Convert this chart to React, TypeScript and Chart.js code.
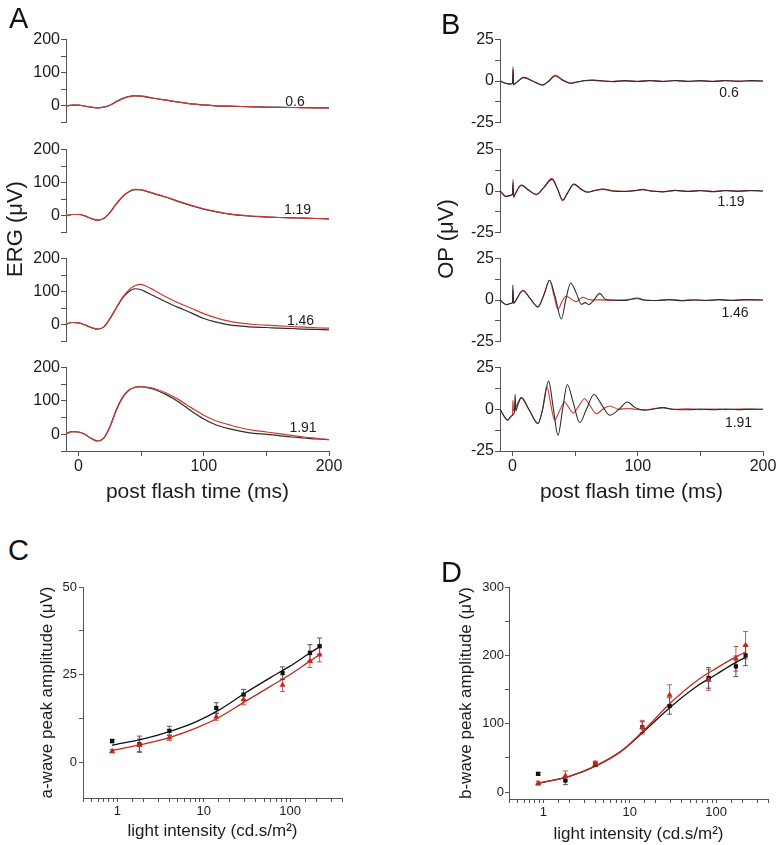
import React, { useEffect, useRef } from 'react';
import { Chart, registerables } from 'chart.js';

Chart.register(...registerables);

const FONT = "'Liberation Sans', Arial, Helvetica, sans-serif";
const AXIS = '#555555';
const TXT = '#1c1c1c';
const BLACK = '#2e2e2e';
const RED = '#cc3a32';

// ---------- Panel A : ERG traces (post flash time, ms) ----------
const ERG_T = [-10, -5, 0, 5, 10, 15, 20, 25, 30, 35, 40, 45, 50, 55, 60, 70, 80, 90, 100, 110, 120, 130, 140, 150, 160, 170, 180, 190, 200];
const ERG_06_BLACK = [0, 2, 2, -1, -4, -6, -4, 2, 13, 22, 28, 30, 29, 26, 23, 17, 11, 6, 3, 0, -1, -2, -3, -4, -4, -5, -5, -6, -6];
const ERG_06_RED = [0, 2, 2, -1, -4, -6, -4, 2, 12, 21, 28, 31, 30, 27, 23, 17, 11, 6, 3, 0, -1, -2, -3, -4, -5, -5, -6, -6, -7];
const ERG_119_BLACK = [0, 4, 4, 0, -8, -13, -8, 10, 35, 57, 72, 79, 78, 73, 67, 56, 43, 31, 20, 12, 5, 1, -2, -4, -5, -6, -7, -8, -9];
const ERG_119_RED = [0, 4, 4, 0, -8, -13, -8, 10, 36, 58, 73, 80, 79, 74, 68, 57, 44, 32, 21, 13, 6, 2, -1, -3, -5, -6, -7, -8, -9];
const ERG_146_BLACK = [2, 7, 6, 0, -8, -13, -7, 18, 50, 80, 100, 109, 106, 97, 88, 69, 52, 36, 19, 8, 0, -4, -7, -8, -10, -11, -13, -14, -15];
const ERG_146_RED = [2, 7, 6, 0, -8, -13, -7, 18, 50, 82, 105, 118, 122, 115, 105, 84, 66, 50, 34, 21, 11, 5, 1, -1, -3, -5, -7, -9, -10];
const ERG_191_BLACK = [2, 8, 7, 0, -12, -20, -12, 22, 72, 110, 132, 141, 143, 140, 135, 119, 97, 70, 46, 28, 17, 9, 3, 0, -4, -8, -11, -14, -16];
const ERG_191_RED = [2, 8, 7, 0, -12, -20, -12, 22, 70, 108, 131, 141, 143, 141, 138, 124, 104, 80, 57, 40, 29, 19, 12, 7, 2, -3, -8, -12, -16];

// ---------- Panel B : OP traces ----------
const OP_06_T = [-10, -5, -1, 0, 0.4, 0.9, 3, 9, 16, 24, 29, 34, 40, 46, 52, 58, 64, 72, 80, 90, 100, 110, 120, 130, 140, 150, 160, 170, 180, 190, 200];
const OP_06_BLACK = [0, -1.5, -1.8, -1.5, 7, -2.2, -1, 2.2, 0, -2.4, 0, 3.0, 0.5, -1.4, -0.5, 0.3, 0.5, 0, -0.4, 0.2, -0.3, 0.2, -0.3, 0.3, -0.2, 0.2, -0.3, 0.2, -0.2, 0.2, 0];
const OP_06_RED = [0, -1.5, -1.8, -1.5, 8.7, -2.4, -1, 2.0, 0, -2.6, 0, 3.6, 0.8, -1.2, -0.6, 0.2, 0.4, 0.1, -0.3, 0.1, -0.2, 0.3, -0.2, 0.2, -0.3, 0.1, -0.2, 0.3, -0.1, 0.1, 0];

const OP_119_T = [-10, -5, -1, 0, 0.4, 0.9, 2, 7, 13, 19, 25, 31.5, 36, 40, 44, 49, 55, 60, 66, 72, 80, 90, 98, 104, 110, 120, 130, 140, 150, 160, 170, 180, 190, 200];
const OP_119_BLACK = [0, -3.4, -2.5, -2, 5, -3.5, -2, 3.6, 0.5, -2, 2, 7, 1, -5.4, -1, 4.2, 1, -0.8, 0.3, 1.2, 0, -0.3, 0.2, 1, 0, -0.5, 0.4, -0.3, 0.2, -0.4, 0.3, -0.2, 0.3, 0];
const OP_119_RED = [0, -3.2, -2.5, -2, 7, -4, -2, 3.4, 0.3, -2.3, 2.2, 7.6, 1.2, -5.8, -1.2, 4.0, 0.8, -0.6, 0.4, 1.0, 0.1, -0.2, 0.3, 0.8, 0.1, -0.4, 0.3, -0.2, 0.3, -0.3, 0.2, -0.1, 0.2, 0];

const OP_146_BLACK_T = [-10, -5, -1, 0, 0.3, 0.8, 2, 8.3, 14, 20.3, 25, 29.6, 34, 39, 42.5, 46.4, 51, 55, 58, 61, 65, 69.6, 74, 80, 90, 99.7, 105, 115, 125, 135, 145, 155, 165, 175, 185, 200];
const OP_146_BLACK = [0, -2.8, -2, -1.5, 9, -2, -1, 5.6, 1, -4, 3, 11.9, 2, -11.5, 0, 10.3, 4, -2.6, -1.6, -2.8, 0, 4, 0.5, 0, -0.3, 1.2, 0, -0.3, 0.2, -0.4, 0, -0.3, 0.2, -0.3, 0.2, 0];
const OP_146_RED_T = [-10, -5, -1, 0, 0.3, 0.8, 2, 8.3, 14, 20.3, 25, 29.6, 33, 36.3, 39.5, 42.9, 47, 50.9, 53.5, 56.3, 60, 65, 70, 80, 90, 99.7, 105, 115, 125, 135, 145, 155, 165, 175, 185, 200];
const OP_146_RED = [0, -2.8, -2, -1.5, 6, -2, -1, 5.8, 1, -4.4, 3, 11.9, 3, -5.6, -1, 2.4, 0.5, -1, 0.5, 1.6, 0.5, 0, 0.1, -0.2, 0.1, 0.8, 0, -0.3, 0.2, -0.3, 0.1, -0.2, 0.2, -0.2, 0.1, 0];

const OP_191_BLACK_T = [-10, -3.7, -1, 1.5, 2.1, 2.6, 4, 7, 13, 20.3, 24, 28.8, 32.5, 36.3, 40, 43.7, 48.5, 53.6, 59, 65, 71, 77.6, 85, 91.7, 98, 105, 112, 120, 128, 140, 150, 160, 170, 180, 190, 200];
const OP_191_BLACK = [0, -6.5, -4, -2, 9, -1, 2, 7, 0, -8.5, 0, 16.9, 1, -15.5, 0, 14.9, 4, -8.1, 0, 8.9, 3, -3.6, 0, 4.4, 1, -0.5, 0, 1, 0, -0.3, 0.2, -0.3, 0.2, -0.2, 0.1, 0];
const OP_191_RED_T = [-10, -3.7, -1, 0, 0.3, 0.8, 3, 7, 13, 20.3, 24, 27.5, 30.5, 33.6, 37.5, 41.6, 45, 48.3, 52.5, 57.6, 62, 66.9, 72, 77.6, 85, 91.7, 98, 105, 112, 120, 128, 140, 150, 160, 170, 180, 190, 200];
const OP_191_RED = [0, -6.5, -4, -3, 5.4, -1, 2, 7, 0, -8.5, 0, 13.7, 3, -6.5, -1, 4.4, 1, -2.2, 1.5, 6.3, 2, -2.6, 0, 2, 0, 0.5, 0, -0.3, 0.3, 1, 0, 0.3, -0.2, 0.2, -0.2, 0.2, 0, 0];

const INTENSITY_LABELS = ['0.6', '1.19', '1.46', '1.91'];

// ---------- Panels C & D : intensity-response ----------
const INTENSITY = [0.87, 1.8, 4, 14, 29, 82, 170, 220];
const A_WAVE_BLACK = [6.2, 5.3, 9.1, 15.6, 19.4, 25.5, 31.3, 33.2];
const A_WAVE_BLACK_ERR = [0.5, 2.3, 1.3, 1.5, 1.5, 1.8, 2.3, 2.3];
const A_WAVE_RED = [3.3, 5.0, 7.1, 13.1, 18.0, 22.1, 28.9, 30.7];
const A_WAVE_RED_ERR = [0.5, 1.8, 0.8, 1.0, 1.5, 1.8, 1.8, 2.0];
const FIT_X = [0.87, 2, 4, 8, 15, 30, 60, 100, 160, 220];
const A_FIT_BLACK = [5.0, 6.8, 8.9, 11.6, 15.0, 19.8, 24.3, 27.5, 30.8, 33.0];
const A_FIT_RED = [3.5, 5.3, 7.2, 9.8, 12.9, 17.4, 21.8, 25.1, 28.5, 30.8];

const B_WAVE_BLACK = [26.8, 17, 41, 95, 126, 167, 184, 200];
const B_WAVE_BLACK_ERR = [2, 6, 3, 8, 12, 15, 15, 15];
const B_WAVE_RED = [13, 24, 41.5, 95, 142, 164, 195, 215];
const B_WAVE_RED_ERR = [3, 7, 4, 10, 15, 15, 18, 20];
const B_FIT_BLACK = [13, 23, 38, 60, 90, 125, 155, 172, 188, 197];
const B_FIT_RED = [13, 23, 38, 60, 92, 131, 163, 181, 196, 205];

// ---------- geometry ----------
type Geo = { left: number; top: number; width: number; height: number; l: number; t: number; r: number; b: number };
const A_TOPS = [39, 149, 258, 367];
const GEO_A: Geo[] = A_TOPS.map((t, i) =>
  i < 3
    ? { left: 20, top: t - 10, width: 334, height: 104, l: 66, t, r: 329, b: t + 84 }
    : { left: 20, top: t - 10, width: 334, height: 148, l: 66, t, r: 329, b: t + 84 });
const GEO_B: Geo[] = A_TOPS.map((t, i) =>
  i < 3
    ? { left: 454, top: t - 10, width: 330, height: 104, l: 500, t, r: 763, b: t + 84 }
    : { left: 454, top: t - 10, width: 330, height: 148, l: 500, t, r: 763, b: t + 84 });
const GEO_C: Geo = { left: 37, top: 577, width: 325, height: 265, l: 83, t: 587, r: 342, b: 798 };
const GEO_D: Geo = { left: 456, top: 577, width: 328, height: 268, l: 509, t: 587, r: 768, b: 799 };
const ALL_GEO: Geo[] = [...GEO_A, ...GEO_B, GEO_C, GEO_D];

const errorBars = {
  id: 'errorBars',
  beforeDatasetsDraw(chart: any) {
    const { ctx } = chart;
    const ys = chart.scales.y;
    chart.data.datasets.forEach((ds: any, i: number) => {
      if (!ds.errors) return;
      const meta = chart.getDatasetMeta(i);
      ctx.save();
      ctx.strokeStyle = ds.errorColor;
      ctx.lineWidth = 1;
      meta.data.forEach((pt: any, j: number) => {
        const v = ds.data[j].y;
        const e = ds.errors[j];
        const y1 = ys.getPixelForValue(v + e);
        const y2 = ys.getPixelForValue(v - e);
        ctx.beginPath();
        ctx.moveTo(pt.x, y1); ctx.lineTo(pt.x, y2);
        ctx.moveTo(pt.x - 2.5, y1); ctx.lineTo(pt.x + 2.5, y1);
        ctx.moveTo(pt.x - 2.5, y2); ctx.lineTo(pt.x + 2.5, y2);
        ctx.stroke();
      });
      ctx.restore();
    });
  },
};

function line(xs: number[], ys: number[], color: string, width = 1.2) {
  return {
    data: xs.map((x, i) => ({ x, y: ys[i] })),
    borderColor: color,
    borderWidth: width,
    pointRadius: 0,
    fill: false,
    cubicInterpolationMode: 'monotone',
  };
}

function pts(xs: number[], ys: number[], errs: number[], color: string, errColor: string, style: string, radius: number) {
  return {
    data: xs.map((x, i) => ({ x, y: ys[i] })),
    showLine: false,
    pointStyle: style,
    pointRadius: radius,
    backgroundColor: color,
    borderColor: color,
    borderWidth: 0,
    errors: errs,
    errorColor: errColor,
  };
}

const gridOpts = (len: number) => ({ display: true, drawOnChartArea: false, drawTicks: true, tickLength: len, color: AXIS, tickColor: AXIS });
const borderOpts = { display: true, color: AXIS, width: 1 };

function timeAxis(show: boolean) {
  if (!show) return { type: 'linear', min: -10, max: 200, display: false };
  return {
    type: 'linear', min: -10, max: 200,
    border: borderOpts,
    grid: gridOpts(5),
    ticks: {
      stepSize: 50, includeBounds: false, autoSkip: false, maxRotation: 0, padding: 1, color: TXT,
      font: { family: FONT, size: 16 },
      callback: (v: any) => (v % 100 === 0 ? String(v) : ''),
    },
    title: { display: true, text: 'post flash time (ms)', color: TXT, font: { family: FONT, size: 21 }, padding: 0 },
  };
}

function valueAxis(min: number, max: number, step: number, major: number) {
  return {
    type: 'linear', min, max,
    border: borderOpts,
    grid: gridOpts(5),
    ticks: {
      stepSize: step, includeBounds: false, autoSkip: false, padding: 1, color: TXT,
      font: { family: FONT, size: 16 },
      callback: (v: any) => (Math.abs(v % major) < 1e-9 ? String(v) : ''),
    },
  };
}

function logAxis(pad: number) {
  return {
    type: 'logarithmic', min: 0.4, max: 400,
    border: borderOpts,
    grid: gridOpts(4),
    ticks: {
      autoSkip: false, maxRotation: 0, padding: pad, color: TXT,
      font: { family: FONT, size: 13 },
      callback: (v: any) => {
        const l = Math.log10(v);
        return v >= 1 && Math.abs(l - Math.round(l)) < 1e-6 ? String(Math.round(v)) : '';
      },
    },
    title: { display: true, text: 'light intensity (cd.s/m²)', color: TXT, font: { family: FONT, size: 17 }, padding: 0 },
  };
}

function ampAxis(min: number, max: number, step: number, major: number, title: string, pad: number) {
  return {
    type: 'linear', min, max,
    border: borderOpts,
    grid: gridOpts(4),
    ticks: {
      stepSize: step, includeBounds: false, autoSkip: false, padding: pad, color: TXT,
      font: { family: FONT, size: 13 },
      callback: (v: any) => (Math.abs(v % major) < 1e-9 ? String(v) : ''),
    },
    title: { display: true, text: title, color: TXT, font: { family: FONT, size: 17 }, padding: 0 },
  };
}

function makeConfig(g: Geo, datasets: any[], x: any, y: any) {
  const showX = x.display !== false;
  return {
    type: 'line',
    data: { datasets },
    options: {
      responsive: false,
      animation: false,
      events: [],
      layout: {
        padding: {
          left: 0,
          top: g.t - g.top,
          right: g.left + g.width - g.r,
          bottom: showX ? 0 : g.top + g.height - g.b,
        },
      },
      plugins: { legend: { display: false }, tooltip: { enabled: false }, title: { display: false } },
      scales: {
        x: { ...x, afterFit: (s: any) => { if (showX) s.height = g.top + g.height - g.b; } },
        y: { ...y, afterFit: (s: any) => { s.width = g.l - g.left; } },
      },
    },
    plugins: [errorBars],
  };
}

function buildConfigs() {
  const ergPairs = [
    [ERG_06_BLACK, ERG_06_RED],
    [ERG_119_BLACK, ERG_119_RED],
    [ERG_146_BLACK, ERG_146_RED],
    [ERG_191_BLACK, ERG_191_RED],
  ];
  const opTraces = [
    [OP_06_T, OP_06_BLACK, OP_06_T, OP_06_RED],
    [OP_119_T, OP_119_BLACK, OP_119_T, OP_119_RED],
    [OP_146_BLACK_T, OP_146_BLACK, OP_146_RED_T, OP_146_RED],
    [OP_191_BLACK_T, OP_191_BLACK, OP_191_RED_T, OP_191_RED],
  ];
  const cfgs: any[] = [];
  ergPairs.forEach(([bk, rd], i) => {
    cfgs.push(makeConfig(GEO_A[i], [line(ERG_T, rd, RED), line(ERG_T, bk, BLACK)], timeAxis(i === 3), valueAxis(-50, 200, 50, 100)));
  });
  opTraces.forEach(([bt, bk, rt, rd], i) => {
    cfgs.push(makeConfig(GEO_B[i], [line(bt, bk, BLACK, 1.1), line(rt, rd, RED, 1.1)], timeAxis(i === 3), valueAxis(-25, 25, 12.5, 25)));
  });
  cfgs.push(makeConfig(GEO_C, [
    pts(INTENSITY, A_WAVE_RED, A_WAVE_RED_ERR, '#c4281e', '#c9564e', 'triangle', 3.5),
    pts(INTENSITY, A_WAVE_BLACK, A_WAVE_BLACK_ERR, '#111111', '#555555', 'rect', 3),
    line(FIT_X, A_FIT_RED, '#c4281e', 1.3),
    line(FIT_X, A_FIT_BLACK, '#111111', 1.3),
  ], logAxis(2), ampAxis(-10, 50, 12.5, 25, 'a-wave peak amplitude (μV)', 2)));
  cfgs.push(makeConfig(GEO_D, [
    pts(INTENSITY, B_WAVE_RED, B_WAVE_RED_ERR, '#c4281e', '#c9564e', 'triangle', 3.5),
    pts(INTENSITY, B_WAVE_BLACK, B_WAVE_BLACK_ERR, '#111111', '#555555', 'rect', 3),
    line(FIT_X, B_FIT_RED, '#c4281e', 1.3),
    line(FIT_X, B_FIT_BLACK, '#111111', 1.3),
  ], logAxis(2), ampAxis(-10, 300, 50, 100, 'b-wave peak amplitude (μV)', 1)));
  return cfgs;
}

const LABEL_POS_A = [[295, 101], [297.5, 209], [300.5, 319.5], [303, 426.5]];
const LABEL_POS_B = [[729, 92], [731, 201], [735, 312], [738.5, 422]];

const abs = (left: number, top: number): React.CSSProperties => ({ position: 'absolute', left, top });

export default function App() {
  const refs = useRef<(HTMLCanvasElement | null)[]>([]);
  useEffect(() => {
    Chart.defaults.font.family = FONT;
    const cfgs = buildConfigs();
    const charts = cfgs.map((c, i) => new Chart(refs.current[i] as HTMLCanvasElement, c));
    return () => charts.forEach((c) => c.destroy());
  }, []);

  const centered = (x: number, y: number, size: number, text: string, rot = false) => (
    <div
      key={text + x + y}
      style={{
        position: 'absolute', left: x, top: y, fontSize: size, lineHeight: 1, whiteSpace: 'nowrap', color: TXT,
        transform: rot ? 'translate(-50%, -50%) rotate(-90deg)' : 'translate(-50%, -50%)',
      }}
    >
      {text}
    </div>
  );

  return (
    <div style={{ position: 'absolute', left: 0, top: 0, width: 784, height: 845, overflow: 'hidden', background: '#fff', fontFamily: FONT }}>
      {ALL_GEO.map((g, i) => (
        <canvas
          key={i}
          ref={(el) => { refs.current[i] = el; }}
          width={g.width}
          height={g.height}
          style={{ position: 'absolute', left: g.left, top: g.top, width: g.width, height: g.height }}
        />
      ))}
      <div style={{ ...abs(9, 4), fontSize: 29, lineHeight: 1, color: '#111' }}>A</div>
      <div style={{ ...abs(441, 10), fontSize: 29, lineHeight: 1, color: '#111' }}>B</div>
      <div style={{ ...abs(8, 536), fontSize: 29, lineHeight: 1, color: '#111' }}>C</div>
      <div style={{ ...abs(441, 558), fontSize: 29, lineHeight: 1, color: '#111' }}>D</div>
      {centered(14.5, 229, 22, 'ERG (μV)', true)}
      {centered(446, 238.5, 22, 'OP (μV)', true)}
      {INTENSITY_LABELS.map((t, i) => centered(LABEL_POS_A[i][0], LABEL_POS_A[i][1], 14, t))}
      {INTENSITY_LABELS.map((t, i) => centered(LABEL_POS_B[i][0], LABEL_POS_B[i][1], 14, t))}
    </div>
  );
}
